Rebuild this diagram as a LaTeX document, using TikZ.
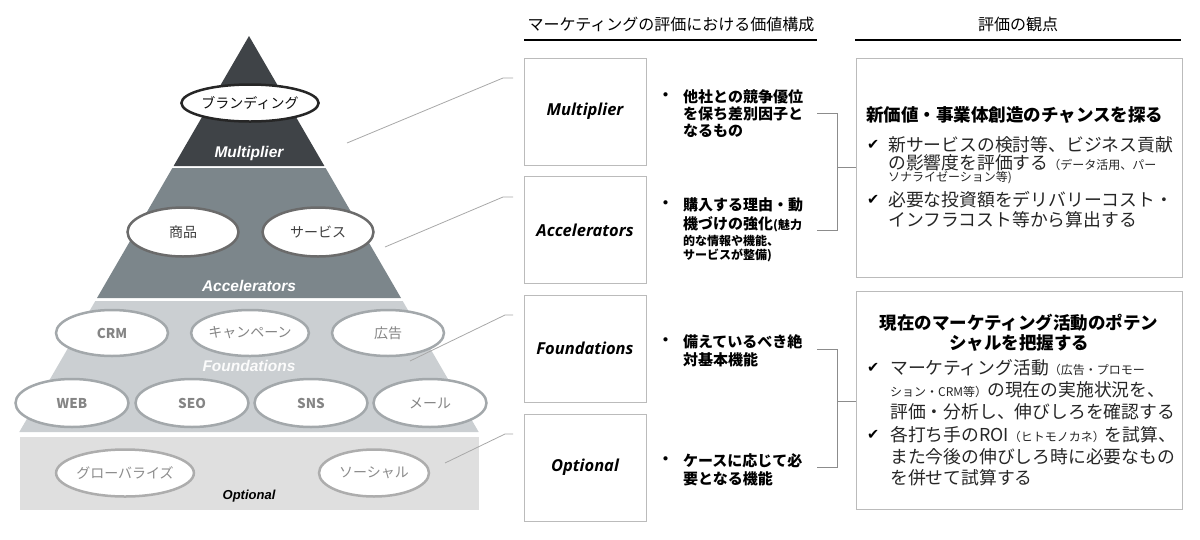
\documentclass[tikz,border=0pt]{standalone}
\usepackage{fontspec}
\usetikzlibrary{shapes.geometric}
\setmainfont{Noto Sans CJK JP}
\newfontfamily\pyrfont{Liberation Sans}
\newfontfamily\boxfont{Open Sans}
\newfontfamily\symfont{DejaVu Sans}
\definecolor{multc}{HTML}{3F4347}
\definecolor{accc}{HTML}{7C868B}
\definecolor{fndc}{HTML}{CBCFD2}
\definecolor{optc}{HTML}{DFDFDF}
\definecolor{fndline}{HTML}{A3A8AB}
\definecolor{leader}{HTML}{A8A8A8}
\definecolor{boxline}{HTML}{BBBBBB}
\begin{document}
\begin{tikzpicture}[x=1pt,y=-1pt,
  ell/.style={ellipse,fill=white,inner sep=0pt,line width=2.5pt},
  brandell/.style={ell,draw=black!85,minimum width=114pt,minimum height=37pt,font=\fontsize{14}{14}\selectfont,text=black!95},
  accell/.style={ell,draw=black!58,minimum width=111pt,minimum height=49pt,font=\fontsize{14}{14}\selectfont,text=black!75},
  fndell/.style={ell,draw=fndline,minimum width=112pt,minimum height=46pt,font=\fontsize{13.5}{13.5}\selectfont\bfseries,text=black!48},
  fndellj/.style={fndell,font=\fontsize{14}{14}\selectfont},
  optell/.style={ell,draw=black!32,minimum width=110pt,minimum height=47pt,font=\fontsize{14}{14}\selectfont,text=black!45},
  pyrlbl/.style={font=\pyrfont\fontsize{15.5}{16}\selectfont\bfseries\itshape,inner sep=0pt},
  valbox/.style={draw=boxline,line width=0.8pt,fill=white},
  boxlbl/.style={font=\boxfont\fontsize{16.5}{17}\selectfont\bfseries\itshape,inner sep=0pt},
  bul/.style={anchor=west,inner sep=0pt,font=\fontsize{15}{15}\selectfont\bfseries},
  buls/.style={anchor=west,inner sep=0pt,font=\fontsize{12}{12}\selectfont\bfseries},
  head/.style={font=\fontsize{16}{16}\selectfont,inner sep=0pt},
  ttl/.style={inner sep=0pt,font=\fontsize{17.5}{17.5}\selectfont\bfseries},
  body/.style={anchor=west,inner sep=0pt,font=\fontsize{17.8}{17.8}\selectfont,text=black!85},
  chk/.style={anchor=west,inner sep=0pt,font=\symfont\fontsize{14.5}{14.5}\selectfont},
  lead/.style={draw=leader,line width=0.8pt},
  brk/.style={draw=black!45,line width=0.8pt}
]
\useasboundingbox (0,0) rectangle (1200,539);
% pyramid layers
\fill[multc] (249,36) -- (324.4,166) -- (173.6,166) -- cycle;
\fill[accc] (172.4,168) -- (325.6,168) -- (401,298) -- (97,298) -- cycle;
\fill[fndc] (95.3,301) -- (402.7,301) -- (478.7,432) -- (19.3,432) -- cycle;
\fill[optc] (20,437) rectangle (479,510);
% ellipses
\node[brandell] (brand) at (250,103) {ブランディング};
\node[accell] (shohin) at (183,232) {商品};
\node[accell] (service) at (318,232) {サービス};
\node[fndell] (crm) at (112,333) {CRM};
\node[fndellj] (camp) at (250,333) {キャンペーン};
\node[fndellj] (ad) at (388,333) {広告};
\node[fndell,minimum width=113pt,minimum height=48pt] (web) at (72,403) {WEB};
\node[fndell,minimum width=113pt,minimum height=48pt] (seo) at (192,403) {SEO};
\node[fndell,minimum width=113pt,minimum height=48pt] (sns) at (311,403) {SNS};
\node[fndellj,minimum width=113pt,minimum height=48pt] (mail) at (430,403) {メール};
\node[optell] (glob) at (125,473) {グローバライズ};
\node[optell] (social) at (374,473) {ソーシャル};
% pyramid labels
\node[pyrlbl,text=white] (lmult) at (249,153) {Multiplier};
\node[pyrlbl,text=white] (lacc) at (249,286) {Accelerators};
\node[pyrlbl,text=white!92!fndc] (lfnd) at (249,366) {Foundations};
\node[pyrlbl,text=black,font=\pyrfont\fontsize{13}{14}\selectfont\bfseries\itshape] (lopt) at (249,496) {Optional};
% headers
\node[head] (h1) at (671,24) {マーケティングの評価における価値構成};
\node[head] (h2) at (1018,24) {評価の観点};
\draw[line width=1.3pt] (524,40) -- (817,40);
\draw[line width=1.3pt] (855,40) -- (1181,40);
% value boxes
\node[valbox,minimum width=122pt,minimum height=107pt,inner sep=0pt] (bmult) at (585,111.5) {};
\node[valbox,minimum width=122pt,minimum height=107pt,inner sep=0pt] (bacc) at (585,230) {};
\node[valbox,minimum width=122pt,minimum height=107pt,inner sep=0pt] (bfnd) at (585,348.5) {};
\node[valbox,minimum width=122pt,minimum height=107pt,inner sep=0pt] (bopt) at (585,467.5) {};
\node[boxlbl] at (bmult) {Multiplier};
\node[boxlbl] at (bacc) {Accelerators};
\node[boxlbl] at (bfnd) {Foundations};
\node[boxlbl] at (bopt) {Optional};
% leader lines
\coordinate (m1) at (347,143); \coordinate (m2) at (503,78); \coordinate (m3) at (513,78);
\coordinate (a1) at (385,247); \coordinate (a2) at (503,197); \coordinate (a3) at (513,197);
\coordinate (f1) at (410,361); \coordinate (f2) at (505,315); \coordinate (f3) at (513,315);
\coordinate (o1) at (445,463); \coordinate (o2) at (505,434); \coordinate (o3) at (513,434);
\draw[lead] (m1) -- (m2) -- (m3);
\draw[lead] (a1) -- (a2) -- (a3);
\draw[lead] (f1) -- (f2) -- (f3);
\draw[lead] (o1) -- (o2) -- (o3);
% bullets
\node[bul] (p1d) at (658,97) {・};
\node[bul] (p1a) at (683,97) {他社との競争優位};
\node[bul] (p1b) at (683,114) {を保ち差別因子と};
\node[bul] (p1c) at (683,131) {なるもの};
\node[bul] (p2d) at (658,205) {・};
\node[bul] (p2a) at (683,205) {購入する理由・動};
\node[bul] (p2b) at (683,224) {機づけの強化{\fontsize{12}{12}\selectfont(魅力}};
\node[buls] (p2c) at (683,241) {的な情報や機能、};
\node[buls] (p2e) at (683,255) {サービスが整備)};
\node[bul] (p3d) at (658,342) {・};
\node[bul] (p3a) at (683,342) {備えているべき絶};
\node[bul] (p3b) at (683,360) {対基本機能};
\node[bul] (p4d) at (658,461) {・};
\node[bul] (p4a) at (683,461) {ケースに応じて必};
\node[bul] (p4b) at (683,479) {要となる機能};
% right boxes
\node[valbox,minimum width=326pt,minimum height=219pt,inner sep=0pt] (r1) at (1019,167.5) {};
\node[valbox,minimum width=326pt,minimum height=218pt,inner sep=0pt] (r2) at (1019,400) {};
% brackets
\coordinate (k1t) at (817,113); \coordinate (k1b) at (817,230);
\coordinate (k2t) at (817,349); \coordinate (k2b) at (817,467);
\draw[brk] (k1t) -- (837,113) -- (837,230) -- (k1b);
\draw[brk] (837,167) -- (r1.west |- 0,167);
\draw[brk] (k2t) -- (837,349) -- (837,467) -- (k2b);
\draw[brk] (837,401) -- (r2.west |- 0,401);
% right box 1 text
\node[ttl,anchor=west] (t1) at (866,115) {新価値・事業体創造のチャンスを探る};
\node[chk] (c1) at (867,145) {✔};
\node[body] (t1a) at (888,145) {新サービスの検討等、ビジネス貢献};
\node[body] (t1b) at (888,163) {の影響度を評価する{\fontsize{12}{12}\selectfont（データ活用、パー}};
\node[body,font=\fontsize{12}{12}\selectfont] (t1c) at (888,178) {ソナライゼーション等)};
\node[chk] (c2) at (867,200) {✔};
\node[body] (t1d) at (888,200) {必要な投資額をデリバリーコスト・};
\node[body] (t1e) at (888,220) {インフラコスト等から算出する};
% right box 2 text
\node[ttl] (t2) at (1019,323) {現在のマーケティング活動のポテン};
\node[ttl] (t2x) at (1019,343) {シャルを把握する};
\node[chk] (c3) at (867,368) {✔};
\node[body] (t2a) at (890,368) {マーケティング活動{\fontsize{12}{12}\selectfont（広告・プロモー}};
\node[body] (t2b) at (890,390) {{\fontsize{12}{12}\selectfont ション・CRM等）}の現在の実施状況を、};
\node[body] (t2c) at (890,412) {評価・分析し、伸びしろを確認する};
\node[chk] (c4) at (867,435) {✔};
\node[body] (t2d) at (890,435) {各打ち手のROI{\fontsize{12}{12}\selectfont（ヒトモノカネ）}を試算、};
\node[body] (t2e) at (890,457) {また今後の伸びしろ時に必要なもの};
\node[body] (t2f) at (890,478) {を併せて試算する};
\end{tikzpicture}
\end{document}
